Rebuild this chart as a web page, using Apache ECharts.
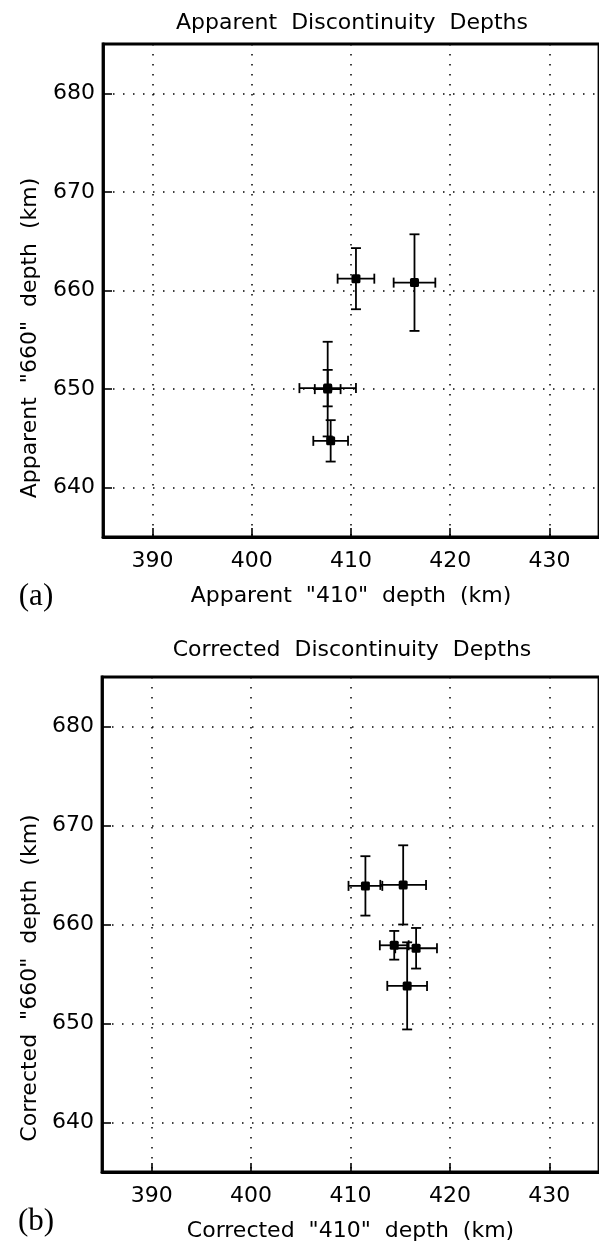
<!DOCTYPE html>
<html>
<head>
<meta charset="utf-8">
<script src="https://cdn.jsdelivr.net/npm/echarts@6/dist/echarts.min.js"></script>
<style>
html,body{margin:0;padding:0;background:#fff;}
#chart{width:599px;height:1244px;}
</style>
</head>
<body>
<div id="chart"></div>
<script>
// Panel (a): apparent depths  [410 depth, 660 depth, 410 error, 660 error]
const apparent410 = [410.5, 416.4, 407.65, 407.65, 407.95];
const apparent660 = [661.2, 660.8, 650.1, 650.0, 644.75];
const apparent410Err = [1.85, 2.1, 2.85, 1.3, 1.75];
const apparent660Err = [3.1, 4.9, 1.85, 4.8, 2.1];

// Panel (b): corrected depths
const corrected410 = [411.5, 415.3, 414.4, 416.6, 415.7];
const corrected660 = [663.9, 664.0, 657.9, 657.6, 653.8];
const corrected410Err = [1.7, 2.3, 1.45, 2.1, 2.0];
const corrected660Err = [3.0, 4.0, 1.45, 2.05, 4.4];

const xTicks = [390, 400, 410, 420, 430];
const yTicks = [640, 650, 660, 670, 680];

const titles = ['Apparent  Discontinuity  Depths', 'Corrected  Discontinuity  Depths'];
const xNames = ['Apparent  "410"  depth  (km)', 'Corrected  "410"  depth  (km)'];
const yNames = ['Apparent  "660"  depth  (km)', 'Corrected  "660"  depth  (km)'];
const panelTags = ['(a)', '(b)'];

const FONT = 'DejaVu Sans';
const FS = 22;

function rows(xs, ys, ex, ey) {
  return xs.map((v, i) => [v, ys[i], ex[i], ey[i]]);
}

function renderErr(params, api) {
  const x = api.value(0), y = api.value(1), ex = api.value(2), ey = api.value(3);
  const c = api.coord([x, y]);
  const l = api.coord([x - ex, y]), r = api.coord([x + ex, y]);
  const t = api.coord([x, y + ey]), b = api.coord([x, y - ey]);
  const cap = 5, ms = 4.5;
  const st = {stroke: '#000', lineWidth: 1.8};
  const ln = (x1, y1, x2, y2) => ({type: 'line', shape: {x1, y1, x2, y2}, style: st});
  return {
    type: 'group',
    children: [
      ln(l[0], l[1], r[0], r[1]),
      ln(t[0], t[1], b[0], b[1]),
      ln(l[0], l[1] - cap, l[0], l[1] + cap),
      ln(r[0], r[1] - cap, r[0], r[1] + cap),
      ln(t[0] - cap, t[1], t[0] + cap, t[1]),
      ln(b[0] - cap, b[1], b[0] + cap, b[1]),
      {type: 'rect', shape: {x: c[0] - ms, y: c[1] - ms, width: 2 * ms, height: 2 * ms, r: 1.5}, style: {fill: '#000'}}
    ]
  };
}

const grids = [
  {left: 103, top: 44, width: 500, height: 493},
  {left: 102, top: 677, width: 500, height: 495}
];

function xAxis(i) {
  return {
    type: 'value', gridIndex: i, min: 385, max: 435,
    axisLine: {show: true, onZero: false, lineStyle: {color: '#000', width: 2.8}},
    axisTick: {show: true, inside: true, length: 9, lineStyle: {color: '#000', width: 1.6},
      customValues: xTicks},
    axisLabel: {color: '#000', fontFamily: FONT, fontSize: FS, margin: 13, customValues: xTicks},
    splitLine: {show: true, lineStyle: {color: '#000', width: 1.5, type: [1.5, 8.5]}, customValues: xTicks},
    name: xNames[i], nameLocation: 'middle', nameGap: 48,
    nameTextStyle: {color: '#000', fontFamily: FONT, fontSize: FS}
  };
}
function yAxis(i) {
  return {
    type: 'value', gridIndex: i, min: 635, max: 685,
    axisLine: {show: true, onZero: false, lineStyle: {color: '#000', width: 2.8}},
    axisTick: {show: true, inside: true, length: 9, lineStyle: {color: '#000', width: 1.6},
      customValues: yTicks},
    axisLabel: {color: '#000', fontFamily: FONT, fontSize: FS, margin: 8, customValues: yTicks},
    splitLine: {show: true, lineStyle: {color: '#000', width: 1.5, type: [1.5, 8.5]}, customValues: yTicks}
  };
}

const graphics = [];
const titleY = [23, 650];
const tagY = [597, 1222];
const yNameY = [338, 978];
for (let i = 0; i < 2; i++) {
  graphics.push({type: 'text', x: 352, y: titleY[i],
    style: {text: titles[i], fill: '#000', font: FS + 'px "' + FONT + '"', textAlign: 'center', textVerticalAlign: 'middle'}});
  graphics.push({type: 'text', x: 36, y: tagY[i],
    style: {text: panelTags[i], fill: '#000', font: '31px "Liberation Serif"', textAlign: 'center', textVerticalAlign: 'middle'}});
  graphics.push({type: 'text', x: 30, y: yNameY[i], rotation: Math.PI / 2,
    style: {text: yNames[i], fill: '#000', font: FS + 'px "' + FONT + '"', textAlign: 'center', textVerticalAlign: 'middle'}});
}

const chart = echarts.init(document.getElementById('chart'), null, {renderer: 'canvas'});
chart.setOption({
  backgroundColor: '#fff',
  animation: false,
  grid: grids.map(g => Object.assign({show: true, borderColor: '#000', borderWidth: 2.8, backgroundColor: 'transparent'}, g)),
  xAxis: [xAxis(0), xAxis(1)],
  yAxis: [yAxis(0), yAxis(1)],
  graphic: graphics,
  series: [
    {type: 'custom', xAxisIndex: 0, yAxisIndex: 0, renderItem: renderErr,
      data: rows(apparent410, apparent660, apparent410Err, apparent660Err)},
    {type: 'custom', xAxisIndex: 1, yAxisIndex: 1, renderItem: renderErr,
      data: rows(corrected410, corrected660, corrected410Err, corrected660Err)}
  ]
});
</script>
</body>
</html>
